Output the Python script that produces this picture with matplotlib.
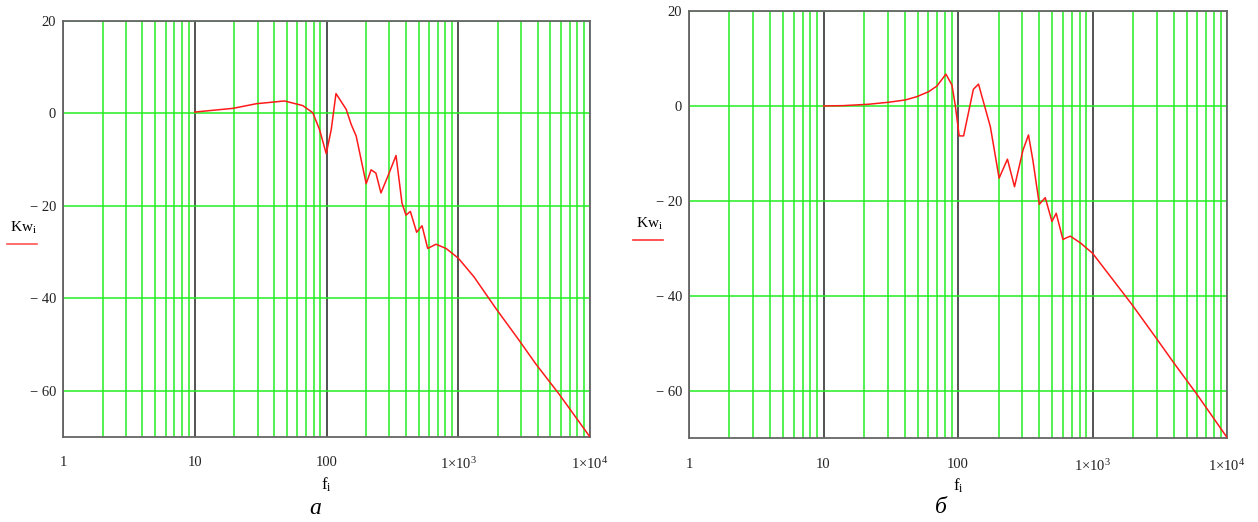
import numpy as np
import matplotlib.pyplot as plt
from matplotlib.ticker import FixedLocator, FixedFormatter

plt.rcParams['font.family'] = ['Liberation Serif', 'DejaVu Serif']
plt.rcParams['mathtext.fontset'] = 'custom'
plt.rcParams['mathtext.rm'] = 'Liberation Serif'
plt.rcParams['mathtext.it'] = 'Liberation Serif:italic'

# curve a (left)
f_a = [10, 19.5, 29.3, 48, 66, 78.7, 88.5, 99.5, 108.6, 118, 141, 154, 168, 200, 218,
       237, 259, 292, 337, 374, 401, 433, 483, 531, 586, 678, 807, 1000, 1320, 1931,
       2900, 3880, 5820, 10000]
kw_a = [0.3, 1.1, 2.1, 2.7, 1.7, 0.15, -3.5, -8.7, -3.5, 4.3, 0.9, -2.4, -4.9, -15.2, -12.2,
        -12.9, -17.2, -13.6, -9.1, -19.4, -22, -21.2, -25.7, -24.3, -29.2, -28.3, -29.2, -31.3,
        -35.4, -42.2, -49.1, -54.2, -60.7, -70]

# curve b (right)
f_b = [10, 14, 21.6, 30.4, 40.5, 49.4, 60.4, 69.7, 81.3, 90.1, 95.3, 102, 110, 130, 142,
       174, 202, 233, 263, 304, 334, 360, 402, 445, 499, 537, 602, 683, 810, 1000, 1963,
       3013, 4000, 5970, 10000]
kw_b = [0, 0.07, 0.36, 0.78, 1.26, 1.96, 3.0, 4.2, 6.7, 4.4, 0.2, -6.3, -6.3, 3.5, 4.6,
        -4.4, -15.2, -11.2, -17, -9.3, -6.1, -11.4, -20.7, -19.3, -24.3, -22.6, -28.1, -27.4,
        -28.8, -31, -41.8, -49.1, -54, -60.7, -69.8]

xtick_vals = [1, 10, 100, 1000, 10000]
xtick_labels = ['1', '10', '100', r'$\mathregular{1{\times}10^{3}}$', r'$\mathregular{1{\times}10^{4}}$']
ytick_vals = [20, 0, -20, -40, -60]
ytick_labels = ['20', '0', '− 20', '− 40', '− 60']

green = '#22ee22'
dark = '#444444'

fig = plt.figure(figsize=(12.58, 5.22), dpi=100)

def setup(ax, f, kw):
    ax.plot(f, kw, color='#ff1a1a', lw=1.1, zorder=3)
    ax.set_xscale('log')
    ax.set_xlim(1, 10000)
    ax.set_ylim(-70, 20)
    ax.xaxis.set_major_locator(FixedLocator(xtick_vals))
    ax.xaxis.set_major_formatter(FixedFormatter(xtick_labels))
    minors = [m * d for d in [1, 10, 100, 1000] for m in range(2, 10)]
    ax.xaxis.set_minor_locator(FixedLocator(minors))
    ax.xaxis.set_minor_formatter(FixedFormatter([''] * len(minors)))
    ax.set_yticks(ytick_vals)
    ax.set_yticklabels(ytick_labels)
    ax.grid(True, which='minor', axis='x', color=green, lw=1.1)
    ax.grid(True, which='major', axis='x', color=dark, lw=1.3)
    ax.grid(True, which='major', axis='y', color=green, lw=1.1)
    ax.tick_params(which='both', length=0, labelsize=10.5, colors='#222222')
    ax.tick_params(axis='x', pad=14)
    ax.tick_params(axis='y', pad=5)
    for s in ax.spines.values():
        s.set_color('#666666')
        s.set_linewidth(1.3)
    ax.set_axisbelow(True)
    ax.set_xlabel(r'$\mathregular{f_i}$', fontsize=12, labelpad=2)

ax1 = fig.add_axes([0.0501, 0.1628, 0.4189, 0.797])
setup(ax1, f_a, kw_a)
fig.text(0.008, 0.563, r'$\mathregular{Kw_i}$', fontsize=11, ha='left', va='center')
fig.add_artist(plt.Line2D([0.0056, 0.0294], [0.5326, 0.5326],
                          transform=fig.transFigure, color='#ff5555', lw=1.2))
fig.text(0.2504, 0.025, 'а', fontsize=17, style='italic', ha='center', va='center')

ax2 = fig.add_axes([0.5477, 0.160, 0.4277, 0.819])
setup(ax2, f_b, kw_b)
fig.text(0.5056, 0.571, r'$\mathregular{Kw_i}$', fontsize=11, ha='left', va='center')
fig.add_artist(plt.Line2D([0.5032, 0.527], [0.5402, 0.5402],
                          transform=fig.transFigure, color='#ff3333', lw=1.2))
fig.text(0.748, 0.028, 'б', fontsize=17, style='italic', ha='center', va='center')

fig.savefig('out.png', dpi=100)
